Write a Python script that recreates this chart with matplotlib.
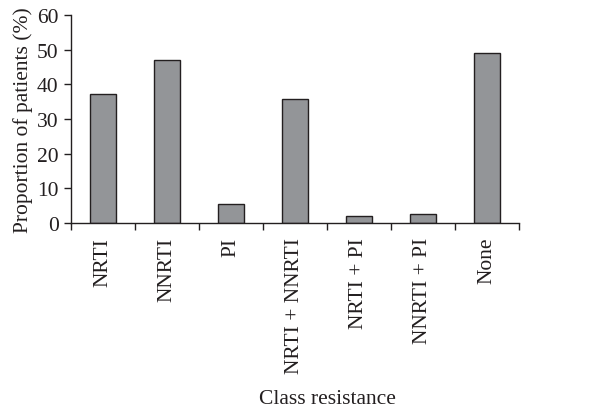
import numpy as np
import matplotlib.pyplot as plt

# valeurs
categories = ["NRTI", "NNRTI", "PI", "NRTI + NNRTI", "NRTI + PI", "NNRTI + PI", "None"]
proportions = [37.1, 46.9, 5.6, 35.8, 2.0, 2.5, 49.0]
yticks = [0, 10, 20, 30, 40, 50, 60]

plt.rcParams['font.family'] = ['Liberation Serif', 'DejaVu Serif']
ink = "#231f20"
fs = 15.5

fig = plt.figure(figsize=(6.1, 4.1), dpi=100)
ax = fig.add_axes([0.1164, 0.4537, 0.7344, 0.5073])

x = np.arange(len(categories))
ax.bar(x, proportions, width=0.41, color="#939598", edgecolor=ink, linewidth=1.0)

ax.set_xlim(-0.5, len(categories) - 0.5)
ax.set_ylim(0, 60)
ax.set_yticks(yticks)
ax.set_xticks(x)
ax.set_xticklabels(categories, rotation=90, fontsize=fs, color=ink)
ax.set_xticks(np.arange(len(categories) + 1) - 0.5, minor=True)
ax.tick_params(axis='x', which='major', length=0, pad=10)
ax.tick_params(axis='x', which='minor', length=5, width=1, color=ink, direction='out')
ax.tick_params(axis='y', length=5, width=1, color=ink, labelsize=fs, labelcolor=ink, pad=4)

for side in ["top", "right"]:
    ax.spines[side].set_visible(False)
for side in ["left", "bottom"]:
    ax.spines[side].set_color(ink)
    ax.spines[side].set_linewidth(1)

ax.set_ylabel("Proportion of patients (%)", fontsize=fs, color=ink, labelpad=3)
fig.text(0.537, 0.025, "Class resistance", ha="center", va="center", fontsize=fs, color=ink)

fig.savefig("out.png", dpi=100)
